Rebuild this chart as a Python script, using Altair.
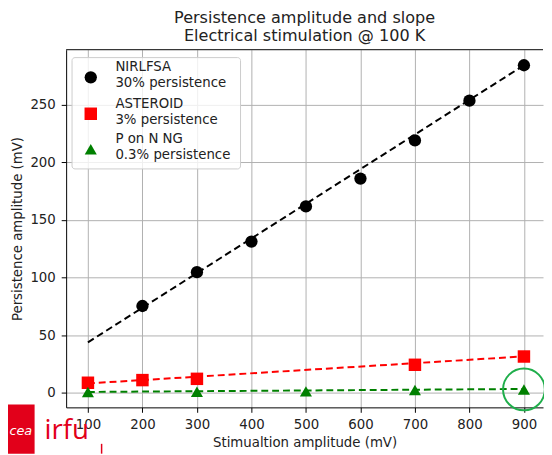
import altair as alt
import pandas as pd

# ---- data ----
stim_nirlfsa = [200, 300, 400, 500, 600, 700, 800, 900]
amp_nirlfsa = [75.3, 104.7, 131.3, 161.8, 186.0, 219.2, 253.7, 284.5]
stim_asteroid = [100, 200, 300, 700, 900]
amp_asteroid = [8.6, 10.9, 12.0, 24.2, 31.4]
stim_ponng = [100, 300, 500, 700, 900]
amp_ponng = [0.5, 0.8, 1.1, 2.3, 2.8]
fit_x = [100, 900]
fit_nirlfsa = [43.7, 284.5]
fit_asteroid = [8.0, 31.5]
fit_ponng = [0.6, 3.2]
series_names = ["NIRLFSA", "ASTEROID", "P on N NG"]
series_notes = ["30% persistence", "3% persistence", "0.3% persistence"]
x_ticks = [100, 200, 300, 400, 500, 600, 700, 800, 900]
y_ticks = [0, 50, 100, 150, 200, 250]
highlight_x = [900]
highlight_y = [2.8]

W, H = 484, 363
FONT = "DejaVu Sans"
colors = ["#000000", "#ff0000", "#008000"]
shapes = ["circle", "square", "triangle-up"]
sizes = [156, 160, 150]

xscale = alt.Scale(domain=[60, 935], nice=False, zero=False)
yscale = alt.Scale(domain=[-12.8, 298], nice=False, zero=False)

xaxis = alt.Axis(values=x_ticks, title="Stimualtion amplitude (mV)", labelPadding=5,
                 titleY=40, titleBaseline="alphabetic", labelFlush=False)
yaxis = alt.Axis(values=y_ticks, title="Persistence amplitude (mV)", labelPadding=6,
                 titleX=-49, titleY=H / 2, titleBaseline="middle", titleAlign="center")

def X(field):
    return alt.X(f"{field}:Q", scale=xscale, axis=xaxis)

def Y(field):
    return alt.Y(f"{field}:Q", scale=yscale, axis=yaxis)

layers = []

# dashed fit lines
for fy, c in zip([fit_nirlfsa, fit_asteroid, fit_ponng], colors):
    df = pd.DataFrame({"x": fit_x, "y": fy})
    layers.append(alt.Chart(df).mark_line(color=c, strokeDash=[7, 4], strokeWidth=2).encode(
        x=X("x"), y=Y("y")))

# data points
for sx, sy, c, s, sz in zip([stim_nirlfsa, stim_asteroid, stim_ponng],
                            [amp_nirlfsa, amp_asteroid, amp_ponng], colors, shapes, sizes):
    df = pd.DataFrame({"x": sx, "y": sy})
    layers.append(alt.Chart(df).mark_point(shape=s, filled=True, color=c, size=sz, opacity=1).encode(
        x=X("x"), y=Y("y")))

# highlight circle
hdf = pd.DataFrame({"x": highlight_x, "y": highlight_y})
layers.append(alt.Chart(hdf).mark_point(shape="circle", filled=False, color="#1fae4b",
                                         size=1800, strokeWidth=2, opacity=1).encode(
    x=X("x"), y=Y("y")))

# top frame line
layers.append(alt.Chart(pd.DataFrame({"a": [0]})).mark_rule(color="#000", strokeWidth=1).encode(
    x=alt.value(0), x2=alt.value(W), y=alt.value(0)))

# legend box
layers.append(alt.Chart(pd.DataFrame({"a": [0]})).mark_rect(
    fill="white", fillOpacity=0.8, stroke="#cccccc", strokeWidth=1, cornerRadius=3).encode(
    x=alt.value(6), x2=alt.value(177), y=alt.value(8), y2=alt.value(121)))

leg_text_y = [18, 55, 91]
leg_mark_y = [28, 65, 101]
for name, note, c, s, sz, ty, my in zip(series_names, series_notes, colors, shapes, sizes,
                                        leg_text_y, leg_mark_y):
    one = pd.DataFrame({"label": [name + "\n\u00a0" + note]})
    layers.append(alt.Chart(one).mark_point(shape=s, filled=True, color=c, size=sz, opacity=1).encode(
        x=alt.value(25), y=alt.value(my)))
    layers.append(alt.Chart(one).mark_text(align="left", baseline="middle", lineBreak="\n",
                                           lineHeight=16, fontSize=13.5, font=FONT,
                                           color="#222").encode(
        x=alt.value(50), y=alt.value(ty), text="label:N"))

# logo (slide decoration)
layers.append(alt.Chart(pd.DataFrame({"a": [0]})).mark_rect(color="#e2001a").encode(
    x=alt.value(-59), x2=alt.value(-32), y=alt.value(360), y2=alt.value(410)))
layers.append(alt.Chart(pd.DataFrame({"t": ["cea"]})).mark_text(
    color="white", fontSize=13, font=FONT, fontStyle="italic", align="center", baseline="middle").encode(
    x=alt.value(-46), y=alt.value(387), text="t:N"))
layers.append(alt.Chart(pd.DataFrame({"t": ["irfu"]})).mark_text(
    color="#e2001a", fontSize=28, font="Open Sans", align="left", baseline="alphabetic").encode(
    x=alt.value(-22), y=alt.value(395), text="t:N"))
layers.append(alt.Chart(pd.DataFrame({"a": [0]})).mark_rule(color="#e2001a", strokeWidth=1.5).encode(
    x=alt.value(36), y=alt.value(400), y2=alt.value(410)))

chart = alt.layer(*layers).properties(
    width=W, height=H,
    autosize=alt.AutoSizeParams(type="none"),
    padding={"left": 59, "top": 39, "right": 1, "bottom": 45},
    title=alt.Title(["Persistence amplitude and slope", "Electrical stimulation @ 100 K"],
                    fontSize=16.3, fontWeight="normal", font=FONT, color="#222",
                    anchor="middle", lineHeight=18, offset=5),
).configure_view(stroke=None).configure_axis(
    labelFont=FONT, titleFont=FONT, labelFontSize=13.5, titleFontSize=13.5,
    titleFontWeight="normal", labelColor="#222", titleColor="#222",
    gridColor="#b0b0b0", gridWidth=1, domainColor="#000", domainWidth=1,
    tickColor="#000", tickSize=5, tickWidth=1,
)

chart.save("out.html", embed_options={"renderer": "svg", "actions": False})
